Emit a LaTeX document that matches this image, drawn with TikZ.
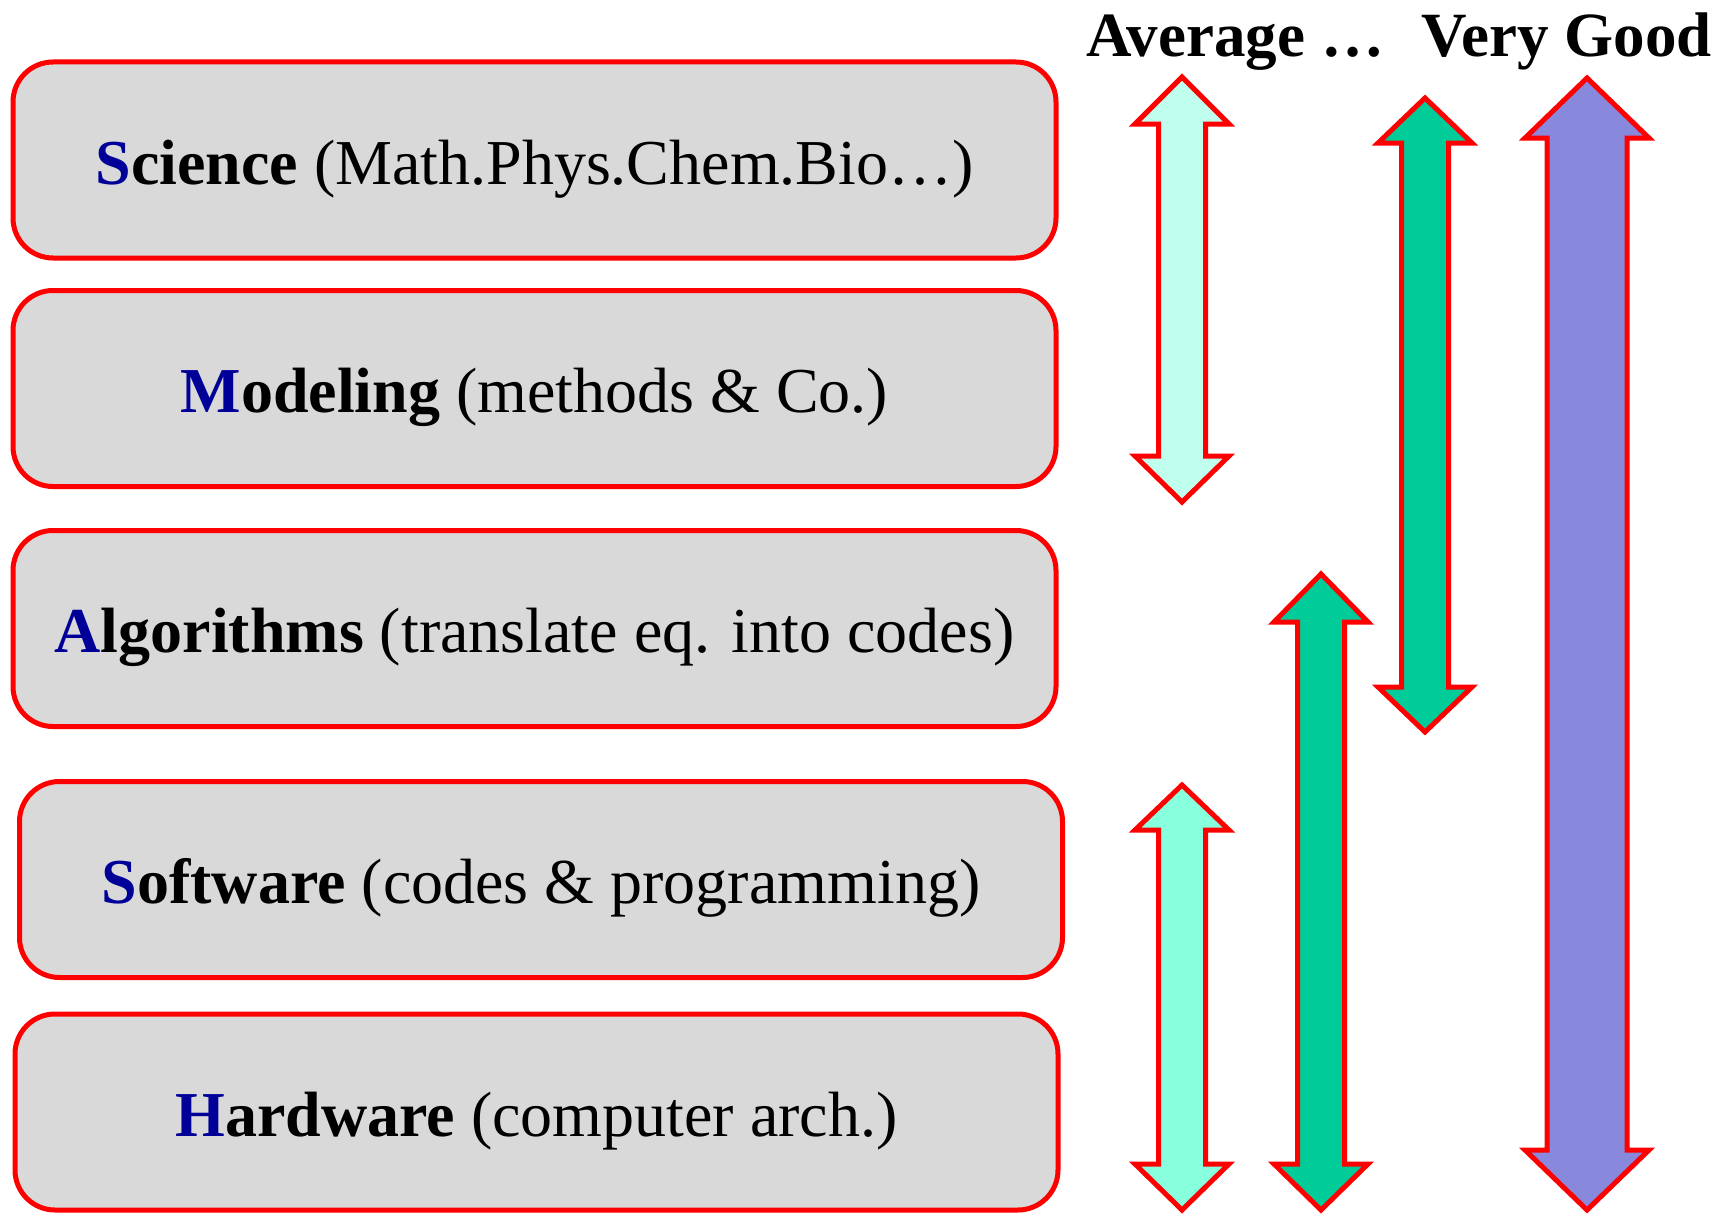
\documentclass[tikz,border=0pt]{standalone}
\usepackage{fontspec}
\setmainfont{Liberation Serif}
\definecolor{boxgray}{HTML}{D9D9D9}
\definecolor{initblue}{HTML}{000099}
\definecolor{paleaqua}{HTML}{C0FFEE}
\definecolor{aqua}{HTML}{88FFDD}
\definecolor{seagreen}{HTML}{00CC99}
\definecolor{lavender}{HTML}{8888DD}
\newcommand{\dblarr}[8]{%
  \draw[arrst, fill=#8] (#1,#2) -- ({#1+#6},#3) -- ({#1+#7},#3) -- ({#1+#7},#4) -- ({#1+#6},#4) -- (#1,#5)
    -- ({#1-#6},#4) -- ({#1-#7},#4) -- ({#1-#7},#3) -- ({#1-#6},#3) -- cycle;}
\newcommand{\ini}[1]{\textcolor{initblue}{#1}}
\begin{document}
\begin{tikzpicture}[x=1pt,y=-1pt,
  layerbox/.style={draw=red, line width=5pt, fill=boxgray, rounded corners=40pt,
    minimum width=1043pt, minimum height=196pt, inner sep=0pt},
  labeltext/.style={anchor=base, font=\fontsize{64}{70}\selectfont, inner sep=0pt},
  arrst/.style={draw=red, line width=5pt, line join=miter, miter limit=20}]
\useasboundingbox (0,0) rectangle (1719,1215);
\node[layerbox] (sci) at (534.5,160) {};
\node[layerbox] (mod) at (534.5,388.5) {};
\node[layerbox] (alg) at (534.5,628.5) {};
\node[layerbox] (sw) at (541,879.5) {};
\node[layerbox] (hw) at (536.5,1112) {};
\node[labeltext] (scit) at (534.5,184) {\textbf{\ini{S}cience} (Math.Phys.Chem.Bio…)};
\node[labeltext] (modt) at (534.5,412.5) {\textbf{\ini{M}odeling} (methods \& Co.)};
\node[labeltext] (algt) at (534.5,652.5) {\textbf{\ini{A}lgorithms} (translate eq. into codes)};
\node[labeltext] (swt) at (541,903.5) {\textbf{\ini{S}oftware} (codes \& programming)};
\node[labeltext] (hwt) at (536.5,1136) {\textbf{\ini{H}ardware} (computer arch.)};
\node[labeltext, anchor=base east, font=\fontsize{63}{70}\selectfont] (title) at (1712,57) {\textbf{Average …\hspace{0.6em}Very Good}};
\dblarr{1182}{77}{124}{456}{502}{47}{23.5}{paleaqua}
\dblarr{1182}{785}{830}{1164}{1210}{47}{23.5}{aqua}
\dblarr{1321}{574}{622}{1164}{1210}{47}{23.5}{seagreen}
\dblarr{1425}{98}{143}{687}{732}{47}{23.5}{seagreen}
\dblarr{1587}{78}{138}{1150}{1210}{62}{40}{lavender}
\end{tikzpicture}
\end{document}
